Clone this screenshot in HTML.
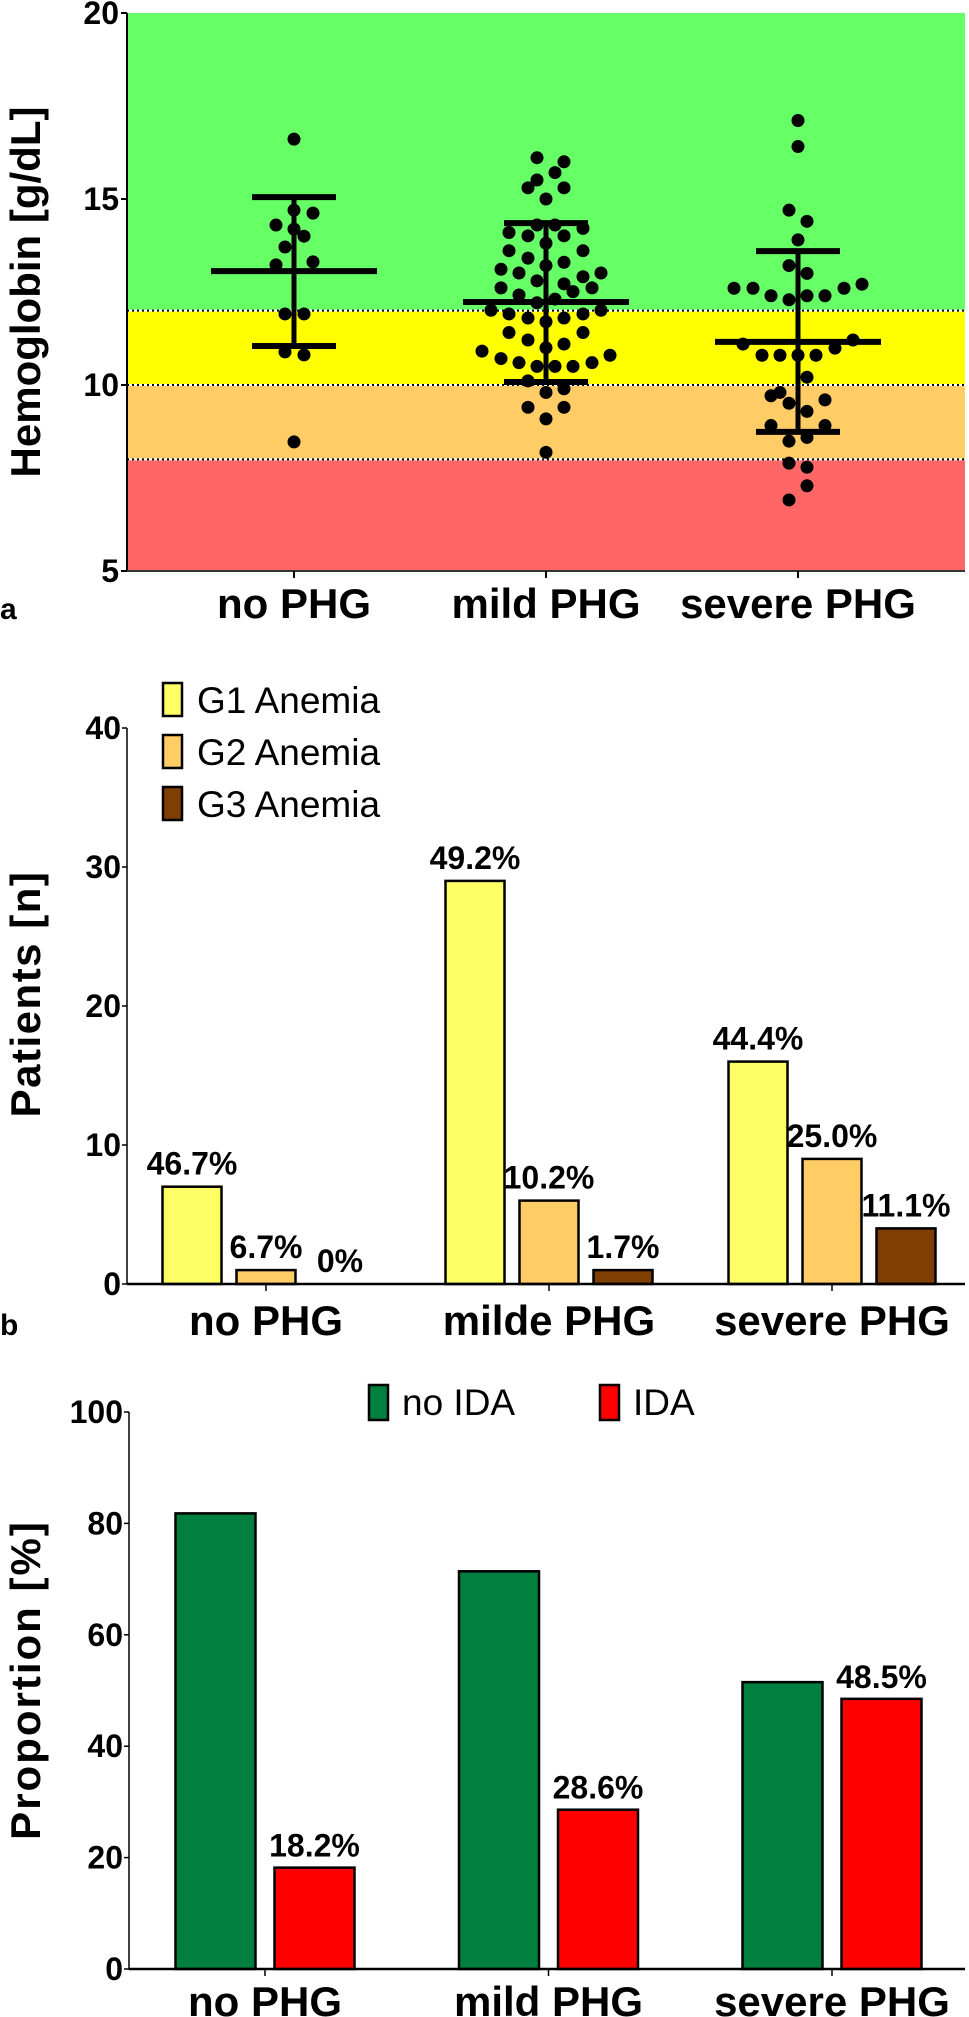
<!DOCTYPE html>
<html><head><meta charset="utf-8"><style>
html,body{margin:0;padding:0;background:#fff;}
svg{display:block;font-family:"Liberation Sans",Arial,sans-serif;}
</style></head><body>
<svg id="fig" width="969" height="2017" viewBox="0 0 969 2017" xmlns="http://www.w3.org/2000/svg">
<g id="pa"></g>
<g id="pb"></g>
<g id="pc"></g>
</svg>
<script>
// ---------- Panel A data ----------
const groupsA = ["no PHG", "mild PHG", "severe PHG"];
const ticksA = [5, 10, 15, 20];
const hbNo = [16.61,14.70,14.62,14.30,14.19,14.00,13.71,13.23,13.31,11.91,11.91,10.89,10.81,8.47];
const jitNo = [0,0,19,-18,0,10,-9,-18,19,-9,10,-9,10,0];
const hbMild = [16.11,16.00,15.71,15.51,15.30,15.30,15.00,14.30,14.30,14.21,14.10,14.01,14.01,13.81,13.61,13.61,13.41,13.30,13.21,13.11,13.01,12.91,13.01,12.80,12.72,12.61,12.51,12.61,12.42,12.31,12.21,12.01,11.91,11.80,11.80,11.91,12.01,11.70,11.41,11.41,11.21,11.10,11.00,10.91,10.80,10.71,10.60,10.50,10.50,10.50,10.60,10.11,9.90,9.80,9.40,9.40,9.09,8.19];
const jitMild = [-9,18,9,-9,-18,18,0,-9,9,37,-37,-18,18,0,-37,37,-18,18,0,-45,-27,37,55,-9,18,-45,27,46,-27,9,-9,-55,-37,-18,18,37,55,0,-37,37,-18,18,0,-64,64,-45,-27,-9,9,27,46,-18,18,0,-18,18,0,0];
const hbSevere = [17.11,16.41,14.70,14.40,13.90,13.21,13.00,12.60,12.60,12.40,12.29,12.40,12.40,12.60,12.71,11.10,11.21,10.99,10.80,10.80,10.80,10.80,10.21,9.80,9.71,9.60,9.51,9.29,8.91,8.91,8.49,8.59,7.90,7.79,7.29,6.91];
const jitSevere = [0,0,-9,9,0,-9,9,-64,-45,-27,-9,9,27,46,64,-55,55,37,-36,-18,0,18,9,-18,-27,27,-9,9,-27,27,-9,9,-9,9,9,-9];
const meanA = [13.06, 12.23, 11.16];
const upperA = [15.05, 14.35, 13.60];
const lowerA = [11.05, 10.08, 8.74];
const bandLimits = [20, 12, 10, 8, 5];

// ---------- Panel B data ----------
const groupsB = ["no PHG", "milde PHG", "severe PHG"];
const seriesB = ["G1 Anemia", "G2 Anemia", "G3 Anemia"];
const g1 = [7, 29, 16];
const g2 = [1, 6, 9];
const g3 = [0, 1, 4];
const g1Labels = ["46.7%", "49.2%", "44.4%"];
const g2Labels = ["6.7%", "10.2%", "25.0%"];
const g3Labels = ["0%", "1.7%", "11.1%"];
const ticksB = [0, 10, 20, 30, 40];

// ---------- Panel C data ----------
const groupsC = ["no PHG", "mild PHG", "severe PHG"];
const seriesC = ["no IDA", "IDA"];
const noIda = [81.8, 71.4, 51.5];
const ida = [18.2, 28.6, 48.5];
const idaLabels = ["18.2%", "28.6%", "48.5%"];
const ticksC = [0, 20, 40, 60, 80, 100];

const NS = "http://www.w3.org/2000/svg";
function mk(parent, tag, attrs, text) {
  const e = document.createElementNS(NS, tag);
  for (const k in attrs) e.setAttribute(k, attrs[k]);
  if (text !== undefined) e.textContent = text;
  parent.appendChild(e);
  return e;
}

// ===== Panel A =====
(function () {
  const g = document.getElementById('pa');
  const x0 = 127, x1 = 965;
  const ya = v => 571 - (v - 5) * 37.2;
  const xa = i => 294 + i * 252;
  const bandCols = ["#66ff66", "#ffff00", "#ffcc66", "#ff6666"];
  const bandNames = ["band-normal", "band-g1", "band-g2", "band-g3"];
  for (let i = 0; i < 4; i++) {
    const r = mk(g, 'rect', {x: x0, y: ya(bandLimits[i]), width: x1 - x0, height: ya(bandLimits[i + 1]) - ya(bandLimits[i]), fill: bandCols[i]});
    
    
  }
  for (let i = 1; i < 4; i++) {
    const yy = ya(bandLimits[i]);
    const l = mk(g, 'line', {x1: x0, x2: x1, y1: yy, y2: yy, stroke: '#fff', 'stroke-width': 2});
    
    
    mk(g, 'line', {x1: x0, x2: x1, y1: yy, y2: yy, stroke: '#000', 'stroke-width': 2, 'stroke-dasharray': '2 3'});
  }
  const sets = [[hbNo, jitNo], [hbMild, jitMild], [hbSevere, jitSevere]];
  sets.forEach((s, gi) => {
    s[0].forEach((v, k) => {
      const c = mk(g, 'circle', {cx: xa(gi) + s[1][k], cy: ya(v), r: 6.5, fill: '#000'});
      
      
    });
  });
  meanA.forEach((m, i) => {
    const cx = xa(i);
    const v = mk(g, 'line', {x1: cx, x2: cx, y1: ya(upperA[i]), y2: ya(lowerA[i]), stroke: '#000', 'stroke-width': 5});
    
    
    const ml = mk(g, 'line', {x1: cx - 83, x2: cx + 83, y1: ya(m), y2: ya(m), stroke: '#000', 'stroke-width': 6});
    
    
    [upperA[i], lowerA[i]].forEach(c => {
      const cl = mk(g, 'line', {x1: cx - 42, x2: cx + 42, y1: ya(c), y2: ya(c), stroke: '#000', 'stroke-width': 6});
      
      
    });
  });
  const ax = mk(g, 'line', {x1: x0, x2: x0, y1: ya(20), y2: ya(5) + 1, stroke: '#000', 'stroke-width': 2});
  
  
  const bx = mk(g, 'line', {x1: x0, x2: x1, y1: 571, y2: 571, stroke: '#333', 'stroke-width': 2});
  
  
  ticksA.forEach(t => {
    mk(g, 'line', {x1: x0 - 6, x2: x0, y1: ya(t), y2: ya(t), stroke: '#000', 'stroke-width': 2});
    const tl = mk(g, 'text', {x: x0 - 8, y: ya(t) + 11, 'text-anchor': 'end', 'font-size': 32, 'font-weight': 'bold'}, String(t));
    
    
  });
  groupsA.forEach((n, i) => {
    mk(g, 'line', {x1: xa(i), x2: xa(i), y1: 571, y2: 578, stroke: '#000', 'stroke-width': 2});
    const tl = mk(g, 'text', {x: xa(i), y: 618, 'text-anchor': 'middle', 'font-size': 42, 'font-weight': 'bold'}, n);
    
    
  });
  const yt = mk(g, 'text', {x: 0, y: 0, transform: 'translate(40,292) rotate(-90)', 'text-anchor': 'middle', 'font-size': 42, 'font-weight': 'bold'}, 'Hemoglobin [g/dL]');
  
  
  const pl = mk(g, 'text', {x: 0, y: 619, 'font-size': 30, 'font-weight': 'bold'}, 'a');
  
  
})();

// ===== Panel B =====
(function () {
  const g = document.getElementById('pb');
  const x0 = 127, x1 = 965;
  const yb = v => 1284 - v * 13.9;
  const gc = i => 266 + i * 283;
  const bw = 59, step = 74;
  const cols = ["#ffff66", "#ffcc66", "#7f3f00"];
  const vals = [g1, g2, g3];
  const labs = [g1Labels, g2Labels, g3Labels];
  vals.forEach((arr, s) => {
    arr.forEach((v, i) => {
      const cx = gc(i) + (s - 1) * step;
      if (v > 0) {
        const r = mk(g, 'rect', {x: cx - bw / 2, y: yb(v), width: bw, height: yb(0) - yb(v), fill: cols[s], stroke: '#000', 'stroke-width': 2.5});
        
        
      }
      const t = mk(g, 'text', {x: cx, y: yb(v) - 12, 'text-anchor': 'middle', 'font-size': 32, 'font-weight': 'bold'}, labs[s][i]);
      
      
    });
  });
  const ax = mk(g, 'line', {x1: x0, x2: x0, y1: yb(40), y2: yb(0), stroke: '#000', 'stroke-width': 1.5});
  
  
  const bx = mk(g, 'line', {x1: x0, x2: x1, y1: yb(0), y2: yb(0), stroke: '#000', 'stroke-width': 2.5});
  
  
  ticksB.forEach(t => {
    mk(g, 'line', {x1: x0 - 5, x2: x0, y1: yb(t), y2: yb(t), stroke: '#000', 'stroke-width': 1.5});
    const tl = mk(g, 'text', {x: x0 - 6, y: yb(t) + 11, 'text-anchor': 'end', 'font-size': 32, 'font-weight': 'bold'}, String(t));
    
    
  });
  groupsB.forEach((n, i) => {
    mk(g, 'line', {x1: gc(i), x2: gc(i), y1: yb(0), y2: yb(0) + 7, stroke: '#000', 'stroke-width': 1.5});
    const tl = mk(g, 'text', {x: gc(i), y: 1335, 'text-anchor': 'middle', 'font-size': 42, 'font-weight': 'bold'}, n);
    
    
  });
  seriesB.forEach((n, s) => {
    const y = 683 + s * 52;
    const sw = mk(g, 'rect', {x: 163, y: y, width: 19, height: 33, fill: cols[s], stroke: '#000', 'stroke-width': 2.5});
    
    
    const tl = mk(g, 'text', {x: 197, y: y + 30, 'font-size': 37}, n);
    
    
  });
  const yt = mk(g, 'text', {x: 0, y: 0, transform: 'translate(40,994) rotate(-90)', 'text-anchor': 'middle', 'font-size': 42, 'font-weight': 'bold', 'letter-spacing': 1.5}, 'Patients [n]');
  
  
  const pl = mk(g, 'text', {x: 0, y: 1335, 'font-size': 30, 'font-weight': 'bold'}, 'b');
  
  
})();

// ===== Panel C =====
(function () {
  const g = document.getElementById('pc');
  const x0 = 129, x1 = 965;
  const yc = v => 1969 - v * 5.57;
  const gc = i => 265 + i * 283.5;
  const bw = 80;
  const cols = ["#007f3f", "#ff0000"];
  const vals = [noIda, ida];
  vals.forEach((arr, s) => {
    arr.forEach((v, i) => {
      const cx = gc(i) + (s === 0 ? -49.5 : 49.5);
      const r = mk(g, 'rect', {x: cx - bw / 2, y: yc(v), width: bw, height: yc(0) - yc(v), fill: cols[s], stroke: '#000', 'stroke-width': 2.5});
      
      
      if (s === 1) {
        const t = mk(g, 'text', {x: cx, y: yc(v) - 11, 'text-anchor': 'middle', 'font-size': 32, 'font-weight': 'bold'}, idaLabels[i]);
        
        
      }
    });
  });
  const ax = mk(g, 'line', {x1: x0, x2: x0, y1: yc(100), y2: yc(0), stroke: '#000', 'stroke-width': 1.5});
  
  
  const bx = mk(g, 'line', {x1: x0, x2: x1, y1: yc(0), y2: yc(0), stroke: '#000', 'stroke-width': 2.5});
  
  
  ticksC.forEach(t => {
    mk(g, 'line', {x1: x0 - 5, x2: x0, y1: yc(t), y2: yc(t), stroke: '#000', 'stroke-width': 1.5});
    const tl = mk(g, 'text', {x: x0 - 6, y: yc(t) + 11, 'text-anchor': 'end', 'font-size': 32, 'font-weight': 'bold'}, String(t));
    
    
  });
  groupsC.forEach((n, i) => {
    mk(g, 'line', {x1: gc(i), x2: gc(i), y1: yc(0), y2: yc(0) + 7, stroke: '#000', 'stroke-width': 1.5});
    const tl = mk(g, 'text', {x: gc(i), y: 2016, 'text-anchor': 'middle', 'font-size': 42, 'font-weight': 'bold'}, n);
    
    
  });
  const legX = [369, 600];
  seriesC.forEach((n, s) => {
    const sw = mk(g, 'rect', {x: legX[s], y: 1385, width: 19, height: 35, fill: cols[s], stroke: '#000', 'stroke-width': 2.5});
    
    
    const tl = mk(g, 'text', {x: legX[s] + 33, y: 1415, 'font-size': 37}, n);
    
    
  });
  const yt = mk(g, 'text', {x: 0, y: 0, transform: 'translate(40,1680) rotate(-90)', 'text-anchor': 'middle', 'font-size': 42, 'font-weight': 'bold', 'letter-spacing': 2}, 'Proportion [%]');
  
  
})();
</script>
</body></html>
